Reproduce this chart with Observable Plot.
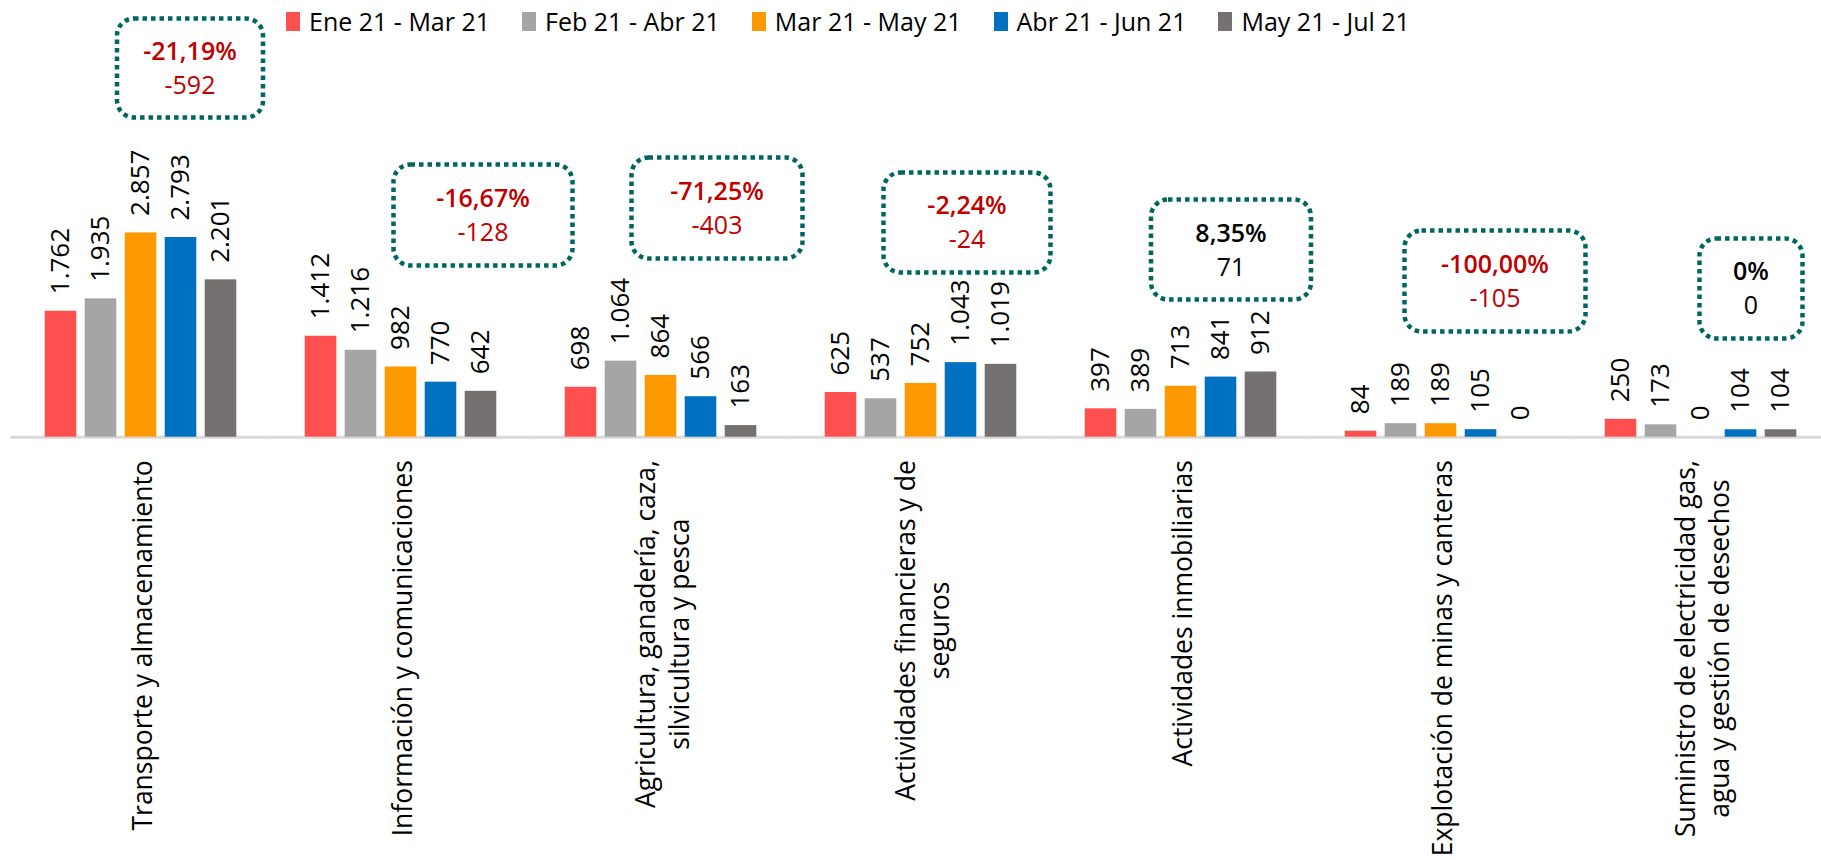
<!DOCTYPE html>
<html><head><meta charset="utf-8">
<script src="https://cdn.jsdelivr.net/npm/d3@7"></script>
<script src="https://cdn.jsdelivr.net/npm/@observablehq/plot@0.6"></script>
<style>
html,body{margin:0;padding:0;background:#fff;}
#wrap{position:relative;width:1821px;height:860px;overflow:hidden;font-family:"Open Sans",sans-serif;}
#legend{position:absolute;left:286px;top:4px;display:flex;gap:32px;align-items:center;font-size:25px;color:#000;z-index:2}
.item{display:flex;align-items:center;gap:9px;white-space:nowrap}
.sw{width:14px;height:19px;display:inline-block}
#chart{position:absolute;left:0;top:0}
</style></head><body><div id="wrap"><div id="legend"></div><div id="chart"></div></div>
<script>
// ---- data ----
const categories = ["Transporte", "Informacion", "Agricultura", "Financieras", "Inmobiliarias", "Explotacion", "Suministro"];
const categoryLabels = [
  "Transporte y almacenamiento",
  "Información y comunicaciones",
  "Agricultura, ganadería, caza,\nsilvicultura y pesca",
  "Actividades financieras y de\nseguros",
  "Actividades inmobiliarias",
  "Explotación de minas y canteras",
  "Suministro de electricidad gas,\nagua y gestión de desechos"
];
const series = ["Ene 21 - Mar 21", "Feb 21 - Abr 21", "Mar 21 - May 21", "Abr 21 - Jun 21", "May 21 - Jul 21"];
const seriesColors = ["#FF5050", "#A5A5A5", "#FF9900", "#0070C0", "#767171"];
const valsEneMar = [1762, 1412, 698, 625, 397, 84, 250];
const valsFebAbr = [1935, 1216, 1064, 537, 389, 189, 173];
const valsMarMay = [2857, 982, 864, 752, 713, 189, 0];
const valsAbrJun = [2793, 770, 566, 1043, 841, 105, 104];
const valsMayJul = [2201, 642, 163, 1019, 912, 0, 104];
const changePct = ["-21,19%", "-16,67%", "-71,25%", "-2,24%", "8,35%", "-100,00%", "0%"];
const changeAbs = ["-592", "-128", "-403", "-24", "71", "-105", "0"];

// ---- annotation box layout (placed by hand in the original) ----
const boxDx = [49, 82, 56, 46, 50, 54, 50];          // px offset from group centre
const boxY = [5164, 3108, 3206, 3003, 2625, 2185, 2080]; // centre, in value units
const boxW = [146, 179, 171, 167, 160, 181, 103];
const boxH = [99, 101, 101, 100, 100, 101, 100];

// ---- build rows ----
const allVals = [valsEneMar, valsFebAbr, valsMarMay, valsAbrJun, valsMayJul];
const rows = [];
categories.forEach((c, i) => series.forEach((s, j) => rows.push({cat: c, series: s, value: allVals[j][i]})));

const loc = d3.formatLocale({decimal: ",", thousands: ".", grouping: [3], currency: ["", ""]});
const fmt = loc.format(",d");

const FONT = '"Open Sans", sans-serif';
const catSize = 26.5;
const ctx = document.createElement("canvas").getContext("2d");
ctx.font = `${catSize}px "Open Sans"`;
const labelLen = categoryLabels.map(l => d3.max(l.split("\n"), t => ctx.measureText(t).width));

const roundRect = (w, h, r) => ({
  draw(p) {
    const x0 = -w / 2, y0 = -h / 2, x1 = w / 2, y1 = h / 2;
    p.moveTo(x0 + r, y0); p.lineTo(x1 - r, y0); p.arcTo(x1, y0, x1, y0 + r, r);
    p.lineTo(x1, y1 - r); p.arcTo(x1, y1, x1 - r, y1, r);
    p.lineTo(x0 + r, y1); p.arcTo(x0, y1, x0, y1 - r, r);
    p.lineTo(x0, y0 + r); p.arcTo(x0, y0, x0 + r, y0, r); p.closePath();
  }
});

const boxMarks = categories.flatMap((c, i) => {
  const d = [{cat: c}];
  const col = changePct[i].startsWith("-") ? "#C00000" : "#000000";
  return [
    Plot.dot(d, {fx: "cat", y: () => boxY[i], dx: boxDx[i], r: 10, symbol: roundRect(boxW[i], boxH[i], 17),
      fill: "none", stroke: "#00665F", strokeWidth: 4.5, strokeDasharray: "4.5,4"}),
    Plot.text(d, {fx: "cat", y: () => boxY[i], dx: boxDx[i], dy: -16, text: () => changePct[i],
      lineAnchor: "middle", fill: col, fontSize: 25, fontWeight: 600, fontFamily: FONT}),
    Plot.text(d, {fx: "cat", y: () => boxY[i], dx: boxDx[i], dy: 18, text: () => changeAbs[i],
      lineAnchor: "middle", fill: col, fontSize: 25, fontWeight: 400, fontFamily: FONT})
  ];
});

const catMarks = categories.map((c, i) => Plot.text([{cat: c}], {
  fx: "cat", frameAnchor: "bottom", text: () => categoryLabels[i], rotate: -90,
  textAnchor: "middle", lineAnchor: "middle", lineHeight: 1.3,
  dy: 23 + labelLen[i] / 2, fontSize: catSize, fontFamily: FONT, fill: "#000"
}));

const plot = Plot.plot({
  width: 1821, height: 860,
  marginTop: 0, marginBottom: 423.3, marginLeft: 35.5, marginRight: 15.5,
  style: {fontFamily: FONT, background: "transparent", overflow: "visible"},
  fx: {domain: categories, paddingInner: 0.1923, paddingOuter: 0, round: false, axis: null},
  x: {domain: series, paddingInner: 0.21, paddingOuter: 0.23, round: false, axis: null},
  y: {domain: [0, 6108], axis: null},
  color: {domain: series, range: seriesColors},
  marks: [
    Plot.ruleY([0], {stroke: "#D9D9D9", strokeWidth: 3, insetLeft: -25, insetRight: -25}),
    Plot.barY(rows, {fx: "cat", x: "series", y: "value", fill: "series", inset: 0}),
    Plot.text(rows, {fx: "cat", x: "series", y: "value", text: d => fmt(d.value), rotate: -90,
      textAnchor: "start", dy: -17, fontSize: 26, fontFamily: FONT, fill: "#000"}),
    ...boxMarks,
    ...catMarks
  ]
});
document.getElementById("chart").appendChild(plot);

const lg = d3.select("#legend");
series.forEach((s, j) => {
  const it = lg.append("div").attr("class", "item");
  it.append("span").attr("class", "sw").style("background", seriesColors[j]);
  it.append("span").text(s);
});
</script></body></html>
